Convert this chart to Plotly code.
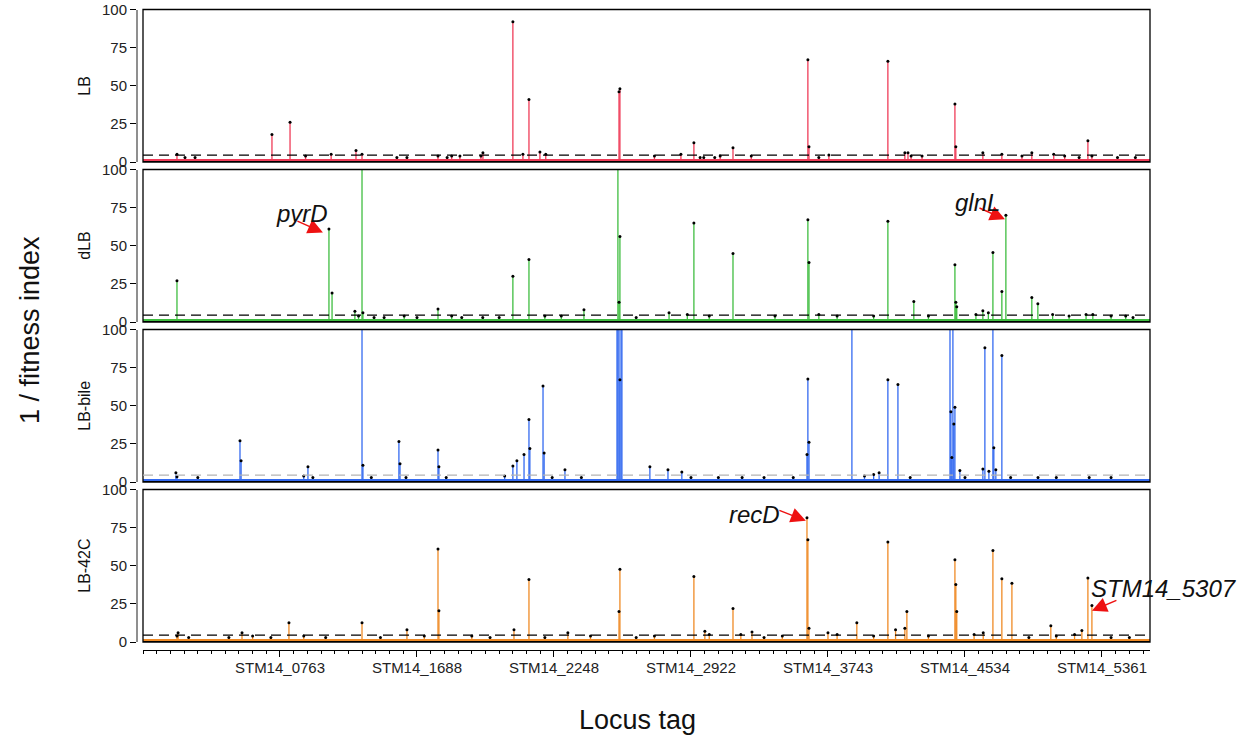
import plotly.graph_objects as go

# ---------------- data ----------------
N_LOCI = 5513
tick_idx = [750, 1500, 2250, 3000, 3750, 4500, 5250]
tick_lab = ["STM14_0763", "STM14_1688", "STM14_2248", "STM14_2922",
            "STM14_3743", "STM14_4534", "STM14_5361"]

panels = ["LB", "dLB", "LB-bile", "LB-42C"]

lb_idx = [706, 805, 1166, 1861, 2025, 2113, 2173, 2606, 2611, 3016, 3230, 3640, 3646,
          3755, 4078, 4445, 4450, 5173,
          186, 230, 285, 890, 1030, 1199, 1390, 1445, 1615, 1665, 1690, 1735, 1850,
          2080, 2205, 2800, 2945, 3050, 3070, 3130, 3160, 3330, 3700, 4171, 4188,
          4205, 4265, 4598, 4702, 4812, 4866, 4986, 5046, 5125, 5195, 5335, 5433]
lb_val = [18, 26, 7.5, 6, 92, 41, 6.6, 46, 48, 12.6, 9.3, 67, 10,
          4.6, 66, 38, 10, 14,
          5, 3, 3, 4, 5, 5, 3, 3, 4, 3, 4, 4, 4,
          5, 5, 4, 5, 3, 3, 3, 4, 4, 3, 6, 6,
          4, 4, 6, 5, 4, 6, 5, 4, 3, 4, 3, 3]

dlb_idx = [186, 1018, 1035, 1160, 1199, 1204, 1615, 2025, 2113, 2414, 2600, 2606, 2611,
           3016, 3230, 3640, 3646, 4078, 4220, 4445, 4450, 4455, 4598, 4653, 4702,
           4724, 4866, 4899,
           1180, 1265, 1320, 1430, 1500, 1690, 1745, 1860, 1950, 2200, 2290, 2700,
           2880, 2980, 3100, 3460, 3700, 3800, 4000, 4300, 4560, 4628, 4980, 5070,
           5163, 5200, 5300, 5380, 5420]
dlb_val = [27, 61, 19, 7, 100, 6, 8.5, 30, 41, 8, 100, 13, 56,
           65, 45, 67, 39, 66, 13.5, 37.5, 13, 10, 7.3, 45.5, 20,
           70, 16, 12,
           4, 3, 3, 4, 3, 4, 3, 3, 3, 4, 4, 3,
           6, 5, 4, 4, 5, 4, 4, 4, 5, 6, 5, 4,
           5, 5, 4, 4, 3]

bile_idx = [180, 186, 531, 537, 903, 1199, 1204, 1401, 1407, 1615, 1620, 2025, 2047,
            2086, 2113, 2118, 2190, 2196, 2310, 2595, 2600, 2606, 2611, 2617, 2622,
            2775, 2874, 2950, 3635, 3640, 3646, 3881, 4078, 4133, 4418, 4423, 4428,
            4434, 4439, 4445, 4472, 4598, 4609, 4631, 4653, 4658, 4669, 4702,
            300, 880, 930, 1250, 1440, 1660, 1980, 2240, 2400, 3000, 3150, 3280,
            3400, 3560, 3950, 4000, 4030, 4200, 4500, 4750, 4900, 5000, 5180, 5300]
bile_val = [6, 3.5, 27, 14, 10, 100, 11, 26.5, 12, 21, 10, 10.5, 14,
            18, 41, 22, 63, 19, 8, 100, 100, 100, 67, 100, 100,
            10, 8, 6.6, 18, 67.5, 26, 100, 67, 64, 100, 46, 16,
            100, 38, 49, 7.5, 8.6, 88, 7, 100, 22.5, 8, 83,
            3, 4, 3, 3, 3, 3, 4, 3, 3, 3, 3, 3,
            3, 3, 4, 5, 6, 3, 3, 3, 3, 3, 3, 3]

c42_idx = [186, 192, 542, 799, 1199, 1445, 1615, 1620, 2031, 2113, 2326, 2606, 2611,
           3016, 3076, 3230, 3273, 3334, 3635, 3640, 3646, 3750, 3908, 4078, 4171,
           4182, 4445, 4450, 4455, 4653, 4702, 4757, 4970, 5140, 5173, 5195,
           250, 470, 600, 700, 880, 1000, 1300, 1540, 1800, 1900, 2200, 2450, 2700,
           2800, 3100, 3400, 3500, 3800, 4000, 4120, 4300, 4550, 4600, 4850, 5000,
           5100, 5300, 5400]
c42_val = [4, 6, 6, 12.6, 12.6, 8, 61, 20.5, 8, 41, 6, 20, 47.7,
           43, 7, 22, 5, 6.6, 81.5, 67, 9, 6, 12.6, 65.5, 9,
           20, 54, 37.7, 20, 60, 41.5, 38.5, 10.6, 7.5, 42, 24,
           3, 3, 4, 3, 4, 3, 3, 4, 4, 3, 3, 4, 3,
           4, 5, 3, 4, 5, 4, 8, 4, 5, 6, 3, 4,
           5, 3, 3]

series = [(lb_idx, lb_val), (dlb_idx, dlb_val), (bile_idx, bile_val), (c42_idx, c42_val)]
threshold = [4.5, 4.5, 4.5, 4.5]
baseline = [1.0, 1.0, 1.0, 1.0]

# ---------------- style / geometry ----------------
colors = ["#ef3c58", "#3fbd40", "#346af0", "#ef8a25"]
thr_colors = ["black", "black", "#b4b4b4", "black"]
FONT = "Liberation Sans, Arial, sans-serif"
W, H = 1244, 740
X0, X1 = 143, 1150
tops = [9.5, 169.5, 329.5, 489.5]
PH = 152.5


def fx(px):
    return px / W


def fy(py):
    return 1 - py / H


def ax_id(letter, k):
    return letter if k == 0 else f"{letter}{k+1}"


fig = go.Figure()
for k, (xi, yv) in enumerate(series):
    xa, ya = ax_id("x", k), ax_id("y", k)
    fig.add_trace(go.Scatter(x=[0, N_LOCI], y=[baseline[k], baseline[k]], mode="lines",
                             line=dict(color=colors[k], width=3), xaxis=xa, yaxis=ya,
                             hoverinfo="skip", showlegend=False))
    sx, sy = [], []
    for x, v in zip(xi, yv):
        sx += [x, x, None]
        sy += [0, v, None]
    fig.add_trace(go.Scatter(x=sx, y=sy, mode="lines",
                             line=dict(color=colors[k], width=1.3), xaxis=xa, yaxis=ya,
                             hoverinfo="skip", showlegend=False))
    mx = [x for x, v in zip(xi, yv) if v < 100]
    my = [v for v in yv if v < 100]
    fig.add_trace(go.Scatter(x=mx, y=my, mode="markers",
                             marker=dict(color="black", size=3), xaxis=xa, yaxis=ya,
                             hoverinfo="skip", showlegend=False))

layout = dict(width=W, height=H, autosize=False,
              margin=dict(l=0, r=0, t=0, b=0, autoexpand=False),
              paper_bgcolor="white", plot_bgcolor="white",
              font=dict(family=FONT, color="#222"), showlegend=False)
shapes, annotations = [], []
for k in range(4):
    top = tops[k]
    ydom = [fy(top + PH), fy(top)]
    xa, ya = ax_id("x", k), ax_id("y", k)
    xax = dict(domain=[fx(X0), fx(X1)], range=[0, N_LOCI], showgrid=False, zeroline=False,
               showticklabels=False, ticks="", showline=False, anchor=ya, automargin=False)
    if k > 0:
        xax["matches"] = "x"
    if k == 3:
        xax.update(anchor="free", position=fy(650), showline=True, linecolor="black",
                   linewidth=1, ticks="outside", ticklen=6, tickcolor="black",
                   tickmode="array", tickvals=tick_idx, ticktext=tick_lab,
                   showticklabels=True, tickfont=dict(size=15, color="#222"),
                   ticklabelstandoff=-2,
                   minor=dict(tickmode="linear", tick0=0, dtick=75, ticks="outside",
                              ticklen=3, tickcolor="black"))
    layout["xaxis" if k == 0 else f"xaxis{k+1}"] = xax
    layout["yaxis" if k == 0 else f"yaxis{k+1}"] = dict(
        domain=ydom, range=[0, 100], anchor="free", position=fx(137), automargin=False,
        showline=True, linecolor="#8f8f8f", linewidth=2, ticks="outside", ticklen=6,
        tickcolor="black", tickvals=[0, 25, 50, 75, 100], showgrid=False, zeroline=False,
        tickfont=dict(size=15, color="#222"))
    shapes.append(dict(type="rect", xref=f"{xa} domain", yref=f"{ya} domain",
                       x0=0, x1=1, y0=0, y1=1, line=dict(color="black", width=1.3),
                       layer="above"))
    shapes.append(dict(type="line", xref=f"{xa} domain", yref=ya,
                       x0=0, x1=1, y0=threshold[k], y1=threshold[k],
                       line=dict(color=thr_colors[k], width=1.3, dash="10px,6px"),
                       layer="above"))
    shapes.append(dict(type="line", xref=f"{xa} domain", yref=ya,
                       x0=0, x1=1, y0=0, y1=0,
                       line=dict(color="black", width=2), layer="above"))
    annotations.append(dict(text=panels[k], x=fx(85), y=fy(top + PH / 2),
                            xref="paper", yref="paper", showarrow=False, textangle=-90,
                            xanchor="center", yanchor="middle",
                            font=dict(size=16, color="#111")))

annotations.append(dict(text="1 / fitness index", x=fx(30), y=fy(330), xref="paper",
                        yref="paper", showarrow=False, textangle=-90,
                        xanchor="center", yanchor="middle",
                        font=dict(size=27, color="#111")))
annotations.append(dict(text="Locus tag", x=fx(637), y=fy(720), xref="paper",
                        yref="paper", showarrow=False, xanchor="center", yanchor="middle",
                        font=dict(size=27, color="#111")))

genes = [("pyrD", 1, 985, 58.7, -27, -12, 302, 213),
         ("glnL", 1, 4719, 67.3, -27, -12, 977, 202),
         ("recD", 3, 3629, 79.5, -28, -11, 754, 514),
         ("STM14_5307", 3, 5195, 20.5, 26, -11, 1164, 588)]
for name, p, hx, hy, ax, ay, tx, ty in genes:
    annotations.append(dict(text="", x=hx, y=hy, xref=ax_id("x", p), yref=ax_id("y", p),
                            ax=ax, ay=ay, showarrow=True, arrowhead=2, arrowsize=2.0,
                            arrowwidth=1.5, arrowcolor="#ee1111", standoff=0))
    annotations.append(dict(text=f"<i>{name}</i>", x=fx(tx), y=fy(ty), xref="paper",
                            yref="paper", showarrow=False, xanchor="center",
                            yanchor="middle", font=dict(size=24, color="#111")))

layout["shapes"] = shapes
layout["annotations"] = annotations
fig.update_layout(**layout)
fig.write_html("out.html")
